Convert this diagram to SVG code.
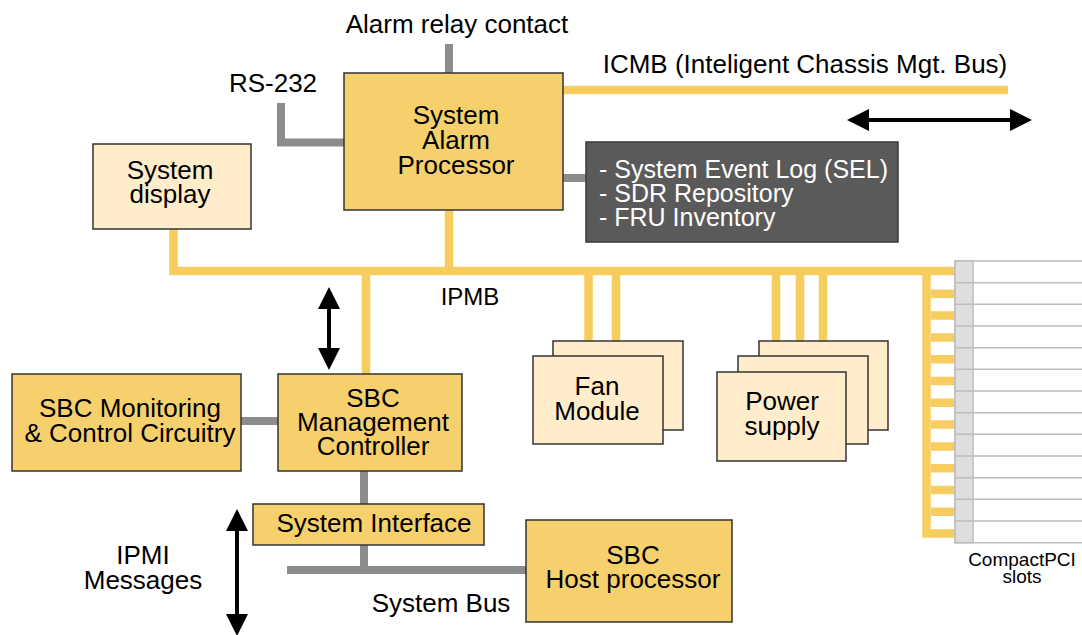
<svg xmlns="http://www.w3.org/2000/svg" width="1082" height="635" viewBox="0 0 1082 635">
<defs>
<style>
text{font-family:"Liberation Sans",Arial,sans-serif;font-size:26px;fill:#000}
.c{text-anchor:middle}
.w{fill:#fff;font-size:25px}
.box{fill:#f7d06e;stroke:#333;stroke-width:1.5}
.lt{fill:#feecca;stroke:#333;stroke-width:1.5}
.dk{fill:#5a5a5a;stroke:#3a3a3a;stroke-width:1.5}
.y{stroke:#f7cd5f;stroke-width:8.5;fill:none}
.g{stroke:#8c8c8c;stroke-width:8;fill:none}
.ar{stroke:#000;stroke-width:4;fill:none}
.slot{fill:#fff;stroke:#bdbdbd;stroke-width:1.5}
.sm{font-size:19px}
</style>
<marker id="ah" viewBox="0 0 10 10" refX="5" refY="5" markerWidth="5.5" markerHeight="5.5" orient="auto-start-reverse" markerUnits="strokeWidth">
<path d="M0,0 L10,5 L0,10 z" fill="#000"/>
</marker>
</defs>

<g id="connectors">
<path class="g" d="M449,44 V74"/>
<path class="g" d="M281,103 V142.5 H345"/>
<path class="g" d="M563,178 H587"/>
<path class="y" d="M563,90 H1008"/>
<path class="y" d="M173.5,229 V271 H955"/>
<path class="y" d="M449,210 V271"/>
<path class="y" d="M366,271 V374"/>
<path class="y" d="M588.5,271 V341 M616,271 V341"/>
<path class="y" d="M776,271 V341 M800,271 V341 M823,271 V341"/>
<path class="y" d="M926.5,271 V533.6 H955 M931,293.8 H955 M931,315.6 H955 M931,337.4 H955 M931,359.2 H955 M931,381 H955 M931,402.8 H955 M931,424.6 H955 M931,446.4 H955 M931,468.2 H955 M931,490 H955 M931,511.8 H955"/>
<path class="g" d="M241,421 H278"/>
<path class="g" d="M364,471 V504"/>
<path class="g" d="M364,545 V570 M287,570 H526"/>
<path class="ar" d="M858,120 H1021" marker-start="url(#ah)" marker-end="url(#ah)"/>
<path class="ar" d="M329,298 V359" marker-start="url(#ah)" marker-end="url(#ah)"/>
<path class="ar" d="M237,520 V625" marker-start="url(#ah)" marker-end="url(#ah)"/>
</g>

<g id="labels">
<text class="c" x="457" y="33">Alarm relay contact</text>
<text class="c" x="273" y="92">RS-232</text>
<text class="c" x="805" y="73">ICMB (Inteligent Chassis Mgt. Bus)</text>
<text class="c" x="470" y="305" style="font-size:24px">IPMB</text>
<text class="c" x="143" y="564">IPMI</text>
<text class="c" x="143" y="589">Messages</text>
<text class="c" x="441" y="612">System Bus</text>
</g>

<g id="sap">
<rect class="box" x="344" y="73" width="219" height="137"/>
<text class="c" x="456" y="124">System</text>
<text class="c" x="456" y="149">Alarm</text>
<text class="c" x="456" y="174">Processor</text>
</g>

<g id="sel">
<rect class="dk" x="586" y="142" width="312" height="100"/>
<text class="w" x="599" y="178">- System Event Log (SEL)</text>
<text class="w" x="599" y="202">- SDR Repository</text>
<text class="w" x="599" y="226">- FRU Inventory</text>
</g>

<g id="sysdisplay">
<rect class="lt" x="93" y="144" width="158" height="85"/>
<text class="c" x="170" y="179">System</text>
<text class="c" x="170" y="203">display</text>
</g>

<g id="fan">
<rect class="lt" x="553" y="341" width="130" height="89"/>
<rect class="lt" x="533" y="356" width="130" height="88"/>
<text class="c" x="597" y="395">Fan</text>
<text class="c" x="597" y="420">Module</text>
</g>

<g id="power">
<rect class="lt" x="759" y="341" width="129" height="89"/>
<rect class="lt" x="738" y="356" width="130" height="88"/>
<rect class="lt" x="717" y="372" width="129" height="89"/>
<text class="c" x="782" y="410">Power</text>
<text class="c" x="782" y="435">supply</text>
</g>

<g id="slots">
<rect class="slot" x="955" y="261" width="130" height="281.7"/>
<rect x="955" y="261" width="18" height="281.7" fill="#dedede" stroke="#bdbdbd" stroke-width="1.5"/>
<path stroke="#bdbdbd" stroke-width="1.5" d="M955,282.7 H1082 M955,304.3 H1082 M955,326 H1082 M955,347.7 H1082 M955,369.3 H1082 M955,391 H1082 M955,412.7 H1082 M955,434.3 H1082 M955,456 H1082 M955,477.7 H1082 M955,499.3 H1082 M955,521 H1082"/>
<text class="c sm" x="1022" y="566">CompactPCI</text>
<text class="c sm" x="1022" y="583">slots</text>
</g>

<g id="sbcmon">
<rect class="box" x="12" y="374" width="229" height="97"/>
<text class="c" x="130" y="417">SBC Monitoring</text>
<text class="c" x="130" y="442">&amp; Control Circuitry</text>
</g>

<g id="sbcmgmt">
<rect class="box" x="278" y="374" width="184" height="97"/>
<text class="c" x="373" y="407">SBC</text>
<text class="c" x="373" y="431">Management</text>
<text class="c" x="373" y="455">Controller</text>
</g>

<g id="sysif">
<rect class="box" x="253" y="504" width="231" height="41"/>
<text class="c" x="374" y="532">System Interface</text>
</g>

<g id="host">
<rect class="box" x="526" y="520" width="206" height="102"/>
<text class="c" x="633" y="564">SBC</text>
<text class="c" x="633" y="588">Host processor</text>
</g>
</svg>
